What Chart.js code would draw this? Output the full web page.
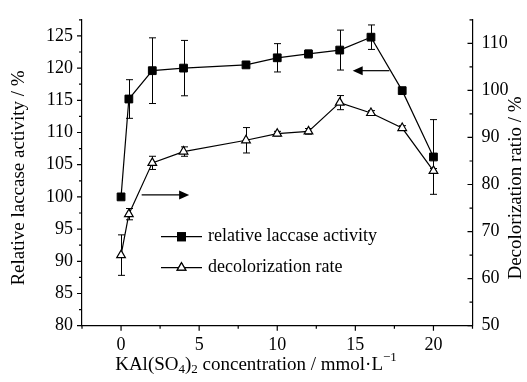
<!DOCTYPE html>
<html>
<head>
<meta charset="utf-8">
<script src="https://cdn.jsdelivr.net/npm/chart.js@4/dist/chart.umd.min.js"></script>
<style>
  html, body { margin: 0; padding: 0; background: #fff; }
  #wrap { width: 527px; height: 382px; }
</style>
</head>
<body>
<div id="wrap"><canvas id="c" width="527" height="382"></canvas></div>
<script>
// KAl(SO4)2 concentration (mmol/L)
const conc = [0, 0.5, 2, 4, 8, 10, 12, 14, 16, 18, 20];
// relative laccase activity (%) and its error
const laccase    = [100, 115.2, 119.6, 120.0, 120.5, 121.6, 122.2, 122.8, 124.8, 116.5, 106.2];
const laccaseErr = [0, 3.0, 5.1, 4.3, 0.4, 2.2, 0.6, 3.1, 1.9, 0.5, 5.8];
// decolorization rate (%) and its error
const decolor    = [65.0, 73.7, 84.6, 87.0, 89.4, 90.8, 91.3, 97.4, 95.2, 92.0, 82.9];
const decolorErr = [4.3, 1.2, 1.4, 1.0, 2.7, 0.5, 0.6, 1.5, 0.5, 0.5, 0.5];

const seriesNames = ['relative laccase activity', 'decolorization rate'];
const xTicks     = [0, 5, 10, 15, 20];
const leftTicks  = [80, 85, 90, 95, 100, 105, 110, 115, 120, 125];
const rightTicks = [50, 60, 70, 80, 90, 100, 110];

const FONT = '"Liberation Serif", serif';
Chart.defaults.font.family = FONT;
Chart.defaults.font.size = 18;
Chart.defaults.color = '#000';

const pts = (xs, ys) => xs.map((x, i) => ({ x, y: ys[i] }));

// error bars, ticks, arrows, legend and titles
const extras = {
  id: 'extras',
  beforeDatasetsDraw(chart) {
    const ctx = chart.ctx;
    const errs = [laccaseErr, decolorErr];
    ctx.save();
    ctx.strokeStyle = '#000';
    ctx.lineWidth = 1;
    chart.data.datasets.forEach((ds, di) => {
      const ys = chart.scales[ds.yAxisID];
      const xs = chart.scales.x;
      ds.data.forEach((p, i) => {
        const e = errs[di][i];
        if (!e) return;
        const px = Math.round(xs.getPixelForValue(p.x)) + 0.5;
        const t = ys.getPixelForValue(p.y + e), b = ys.getPixelForValue(p.y - e);
        ctx.beginPath();
        ctx.moveTo(px, t); ctx.lineTo(px, b);
        ctx.moveTo(px - 3.5, t); ctx.lineTo(px + 3.5, t);
        ctx.moveTo(px - 3.5, b); ctx.lineTo(px + 3.5, b);
        ctx.stroke();
      });
    });
    ctx.restore();
  },
  afterDraw(chart) {
    const ctx = chart.ctx;
    const { x, y, y1 } = chart.scales;
    const a = chart.chartArea;
    ctx.save();
    ctx.strokeStyle = '#000';
    ctx.fillStyle = '#000';
    ctx.lineWidth = 1.2;

    // tick marks
    ctx.beginPath();
    for (let v = x.min; v <= x.max + 1e-6; v += 2.5) {
      const px = x.getPixelForValue(v);
      const len = xTicks.includes(v) ? 5 : 3;
      ctx.moveTo(px, a.bottom); ctx.lineTo(px, a.bottom + len);
    }
    for (let v = y.min; v <= y.max + 1e-6; v += 2.5) {
      const py = y.getPixelForValue(v);
      const len = leftTicks.includes(v) ? 5 : 3;
      ctx.moveTo(a.left, py); ctx.lineTo(a.left - len, py);
    }
    for (let v = y1.min; v <= y1.max + 1e-6; v += 5) {
      const py = y1.getPixelForValue(v);
      const len = rightTicks.includes(v) ? 5 : 3;
      ctx.moveTo(a.right, py); ctx.lineTo(a.right - len, py);
    }
    ctx.stroke();

    // arrows pointing to each series' axis
    const arrow = (x0, x1, yv) => {
      const p0 = x.getPixelForValue(x0), p1 = x.getPixelForValue(x1);
      const py = y.getPixelForValue(yv);
      const dir = Math.sign(p1 - p0);
      ctx.beginPath();
      ctx.moveTo(p0, py); ctx.lineTo(p1 - dir * 8, py);
      ctx.stroke();
      ctx.beginPath();
      ctx.moveTo(p1, py);
      ctx.lineTo(p1 - dir * 10, py - 4.5);
      ctx.lineTo(p1 - dir * 10, py + 4.5);
      ctx.closePath();
      ctx.fill();
    };
    arrow(1.32, 4.36, 100.3);
    arrow(17.18, 14.83, 119.6);

    // legend
    const leg = [[236.7, 0], [267.7, 1]];
    leg.forEach(([ly, di]) => {
      const ds = chart.data.datasets[di];
      ctx.lineWidth = 1.2;
      ctx.beginPath();
      ctx.moveTo(161, ly); ctx.lineTo(202, ly);
      ctx.stroke();
      Chart.helpers.drawPoint(ctx, {
        pointStyle: ds.pointStyle, radius: ds.pointRadius, borderWidth: ds.pointBorderWidth
      }, 181.5, ly);
      ctx.fillStyle = ds.pointBackgroundColor;
      ctx.strokeStyle = '#000';
      ctx.fill();
      ctx.stroke();
      ctx.fillStyle = '#000';
      ctx.font = '18px ' + FONT;
      ctx.textBaseline = 'middle';
      ctx.textAlign = 'left';
      ctx.fillText(seriesNames[di], 208, ly);
    });

    // axis titles
    ctx.font = '19px ' + FONT;
    ctx.textAlign = 'center';
    ctx.textBaseline = 'middle';
    ctx.save();
    ctx.translate(19, 178); ctx.rotate(-Math.PI / 2);
    ctx.fillText('Relative laccase activity / %', 0, 0);
    ctx.restore();
    ctx.save();
    ctx.translate(516, 188); ctx.rotate(-Math.PI / 2);
    ctx.fillText('Decolorization ratio / %', 0, 0);
    ctx.restore();

    // x title with sub/superscripts
    const parts = [
      ['KAl(SO', 0], ['4', 1], [')', 0], ['2', 1], [' concentration / mmol\u00b7L', 0], ['\u22121', 2]
    ];
    const fontFor = k => (k ? '13px ' : '19px ') + FONT;
    let total = 0;
    parts.forEach(([t, k]) => { ctx.font = fontFor(k); total += ctx.measureText(t).width; });
    let cx = 256 - total / 2;
    const by = 365;
    ctx.textAlign = 'left';
    parts.forEach(([t, k]) => {
      ctx.font = fontFor(k);
      ctx.fillText(t, cx, by + (k === 1 ? 5 : k === 2 ? -7 : 0));
      cx += ctx.measureText(t).width;
    });
    ctx.restore();
  }
};

const axisBase = {
  grid: { display: false, drawTicks: false },
  border: { display: true, color: '#000', width: 1.2 }
};

new Chart(document.getElementById('c'), {
  type: 'line',
  data: {
    datasets: [
      {
        label: seriesNames[0], data: pts(conc, laccase), yAxisID: 'y',
        borderColor: '#000', borderWidth: 1.2,
        pointStyle: 'rect', pointRadius: 5.5, pointBorderWidth: 1,
        pointBackgroundColor: '#000', pointBorderColor: '#000'
      },
      {
        label: seriesNames[1], data: pts(conc, decolor), yAxisID: 'y1',
        borderColor: '#000', borderWidth: 1.2,
        pointStyle: 'triangle', pointRadius: 5, pointBorderWidth: 1.2,
        pointBackgroundColor: '#fff', pointBorderColor: '#000'
      }
    ]
  },
  options: {
    responsive: false,
    animation: false,
    layout: { padding: { top: 10, left: 0, right: 0, bottom: 0 } },
    plugins: { legend: { display: false }, tooltip: { enabled: false } },
    scales: {
      x: {
        ...axisBase, type: 'linear', min: -2.5, max: 22.5,
        afterBuildTicks: s => { s.ticks = xTicks.map(v => ({ value: v })); },
        afterFit: s => { s.height = 56.3; },
        ticks: { padding: 9, maxRotation: 0 }
      },
      y: {
        ...axisBase, type: 'linear', position: 'left', min: 80, max: 127.5,
        afterBuildTicks: s => { s.ticks = leftTicks.map(v => ({ value: v })); },
        afterFit: s => { s.width = 82; },
        ticks: { padding: 9 }
      },
      y1: {
        ...axisBase, type: 'linear', position: 'right', min: 50, max: 115,
        afterBuildTicks: s => { s.ticks = rightTicks.map(v => ({ value: v })); },
        afterFit: s => { s.width = 54.5; },
        ticks: { padding: 9 }
      }
    }
  },
  plugins: [extras]
});
</script>
</body>
</html>
